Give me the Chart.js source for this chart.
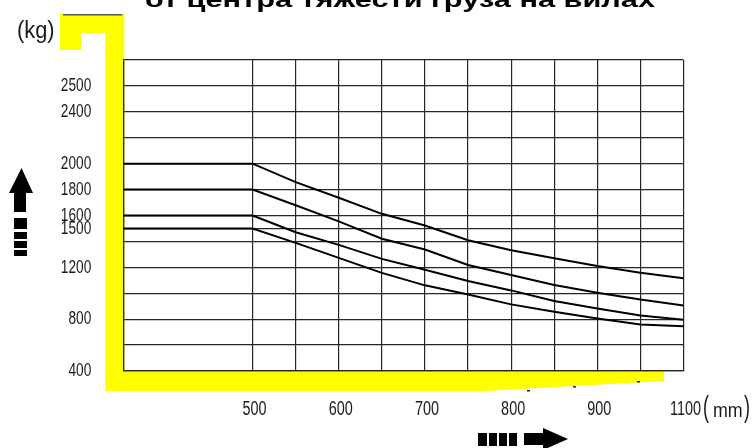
<!DOCTYPE html>
<html>
<head>
<meta charset="utf-8">
<title>Load chart</title>
<script src="https://cdn.jsdelivr.net/npm/chart.js"></script>
<style>
    body { margin: 0; background: #fff; }
    #chart-box { width: 753px; height: 448px; }
</style>
</head>
<body>
<div id="chart-box"><canvas id="load-chart"></canvas></div>
<script>
'use strict';

// load centre distance, mm (first point = left edge of the grid, curves are flat up to 500)
const loadCentres = [350, 500, 550, 600, 650, 700, 750, 800, 850, 900, 950, 1000];

// capacity, kg
const curve2000 = [2000, 2000, 1858, 1737, 1613, 1523, 1409, 1332, 1270, 1210, 1159, 1115];
const curve1800 = [1800, 1800, 1679, 1555, 1421, 1338, 1218, 1141, 1063, 1004, 952, 906];
const curve1600 = [1600, 1600, 1471, 1373, 1265, 1182, 1094, 1022, 940, 883, 829, 795];
const curve1500 = [1500, 1500, 1389, 1273, 1157, 1061, 991, 914, 857, 805, 759, 746];

// grid lines and the labels printed on them
const xGrid = [350, 500, 550, 600, 650, 700, 750, 800, 850, 900, 950, 1000];
const xTickValues = [500, 600, 700, 800, 900, 1000];
const xTickLabels = ['500', '600', '700', '800', '900', '1100'];

const yGrid = [400, 600, 800, 1000, 1200, 1400, 1500, 1600, 1800, 2000, 2200, 2400, 2600, 2800];
const yTickLabels = ['400', '', '800', '', '1200', '', '1500', '1600', '1800', '2000', '', '2400', '2500', ''];

const titleText = 'от центра тяжести груза на вилах';
const labelFont = '"Liberation Sans", Arial, sans-serif';
const gridColor = '#262626';

function curve(values) {
    return {
        data: loadCentres.map((x, i) => ({ x: x, y: values[i] })),
        borderColor: '#000',
        borderWidth: 2,
        pointRadius: 0,
        tension: 0,
        fill: false
    };
}

// narrow (squeezed) text, like the scanned original
function narrowText(c, text, x, y, size, squeeze, align) {
    c.save();
    c.font = size + 'px ' + labelFont;
    c.textBaseline = 'middle';
    const w = c.measureText(text).width * squeeze;
    let left = x;
    if (align === 'right') left = x - w;
    if (align === 'center') left = x - w / 2;
    c.translate(left, y);
    c.scale(squeeze, 1);
    c.textAlign = 'left';
    c.fillText(text, 0, 0);
    c.restore();
}

// yellow frame, arrows, title, tick labels and units
const decor = {
    id: 'decor',
    beforeDraw(chart) {
        const c = chart.ctx;
        const a = chart.chartArea;
        c.save();
        c.fillStyle = '#ffff00';
        c.beginPath();
        c.moveTo(60, 14);
        c.lineTo(a.left + 1, 14);
        c.lineTo(a.left + 1, a.bottom);
        c.lineTo(664, a.bottom);
        c.lineTo(664, a.bottom + 10);
        c.lineTo(484, a.bottom + 20);
        c.lineTo(a.left - 18, a.bottom + 20);
        c.lineTo(a.left - 18, 33);
        c.lineTo(81, 33);
        c.lineTo(81, 50);
        c.lineTo(60, 50);
        c.closePath();
        c.fill();
        c.fillStyle = '#555';
        c.fillRect(63, 14, a.left - 64, 1.5);
        // small specks on the sloping edge
        c.fillStyle = '#222';
        c.fillRect(527, a.bottom + 19, 3, 1.5);
        c.fillRect(573, a.bottom + 15, 3, 1.5);
        c.fillRect(637, a.bottom + 10, 3, 1.5);
        c.restore();
    },
    afterDraw(chart) {
        const c = chart.ctx;
        const a = chart.chartArea;
        const xs = chart.scales.x;
        const ys = chart.scales.y;
        c.save();
        c.fillStyle = '#000';

        // title, only its lower part is inside the picture
        c.font = 'bold 22px ' + labelFont;
        const w = c.measureText(titleText).width;
        c.save();
        c.translate(145, 7);
        c.scale(510 / w, 1);
        c.textBaseline = 'alphabetic';
        c.fillText(titleText, 0, 0);
        c.restore();

        // up arrow on the left
        c.beginPath();
        c.moveTo(9, 193); c.lineTo(21.5, 168); c.lineTo(33, 193);
        c.closePath(); c.fill();
        c.fillRect(14, 192, 12, 20);
        c.fillRect(14, 218, 13, 11);
        c.fillRect(14, 232, 13, 7);
        c.fillRect(14, 241, 13, 7);
        c.fillRect(14, 250, 13, 6);

        // right arrow at the bottom
        c.fillRect(478, 433, 9, 13);
        c.fillRect(489, 433, 8, 13);
        c.fillRect(499, 433, 8, 13);
        c.fillRect(509, 433, 8, 13);
        c.fillRect(524, 433, 20, 12);
        c.beginPath();
        c.moveTo(543, 428); c.lineTo(568, 439); c.lineTo(543, 450);
        c.closePath(); c.fill();

        // tick labels, placed through the chart scales
        c.fillStyle = '#1a1a1a';
        yGrid.forEach((v, i) => {
            if (yTickLabels[i]) narrowText(c, yTickLabels[i], a.left - 32, ys.getPixelForValue(v), 19, 0.72, 'right');
        });
        xTickValues.forEach((v, i) => {
            narrowText(c, xTickLabels[i], xs.getPixelForValue(v) + 2, a.bottom + 38, 20, 0.72, 'center');
        });

        // units
        narrowText(c, '(kg)', 17, 32, 23, 0.95, 'left');
        narrowText(c, '(', 703, 409, 30, 0.6, 'left');
        narrowText(c, 'mm', 713, 411, 21, 0.85, 'left');
        narrowText(c, ')', 744, 409, 30, 0.6, 'left');
        c.restore();
    }
};

const ctx = document.getElementById('load-chart').getContext('2d');

new Chart(ctx, {
    type: 'line',
    data: {
        datasets: [curve(curve2000), curve(curve1800), curve(curve1600), curve(curve1500)]
    },
    plugins: [decor],
    options: {
        responsive: true,
        maintainAspectRatio: false,
        animation: false,
        layout: {
            padding: { left: 0, right: 69.5, top: 60, bottom: 0 }
        },
        scales: {
            x: {
                type: 'linear',
                min: 350,
                max: 1000,
                afterBuildTicks: function (scale) {
                    scale.ticks = xGrid.map(v => ({ value: v }));
                },
                afterFit: function (scale) {
                    scale.height = 77;
                },
                grid: {
                    color: gridColor,
                    lineWidth: 1.2,
                    drawTicks: false
                },
                border: { display: true, color: gridColor, width: 1.2 },
                ticks: { display: false }
            },
            y: {
                type: 'linear',
                min: 400,
                max: 2800,
                afterBuildTicks: function (scale) {
                    scale.ticks = yGrid.map(v => ({ value: v }));
                },
                afterFit: function (scale) {
                    scale.width = 123.3;
                },
                grid: {
                    color: gridColor,
                    lineWidth: 1.2,
                    drawTicks: false
                },
                border: { display: true, color: gridColor, width: 1.2 },
                ticks: { display: false }
            }
        },
        plugins: {
            legend: { display: false },
            tooltip: { enabled: false }
        }
    }
});
</script>
</body>
</html>
